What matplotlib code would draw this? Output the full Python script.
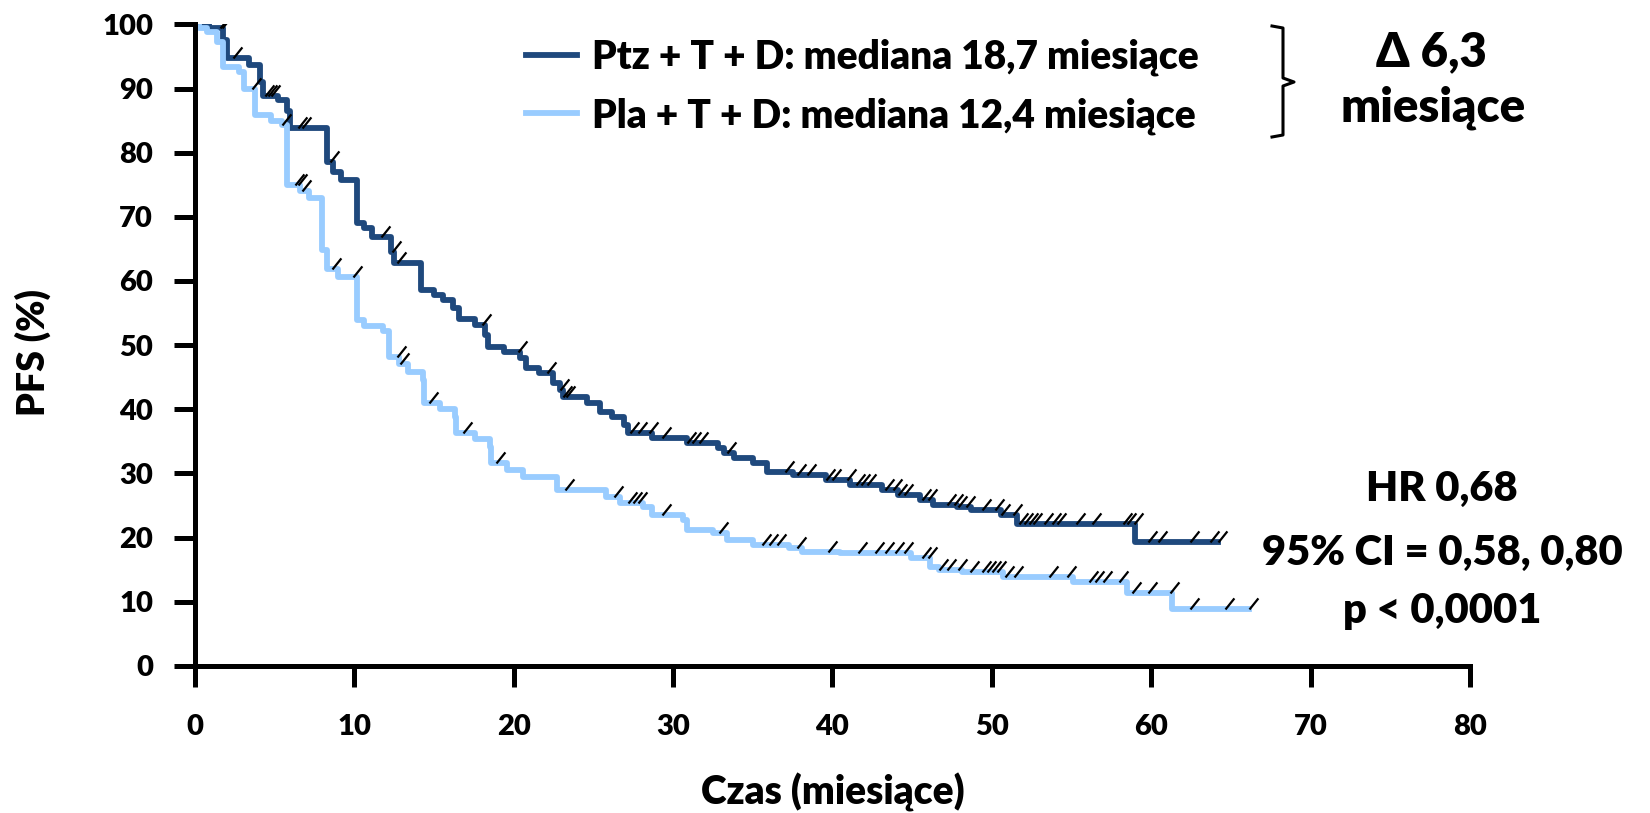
import numpy as np
import matplotlib
matplotlib.use("Agg")
import matplotlib.pyplot as plt
from matplotlib.lines import Line2D

plt.rcParams["font.family"] = ["Lato", "DejaVu Sans"]
plt.rcParams["font.weight"] = "heavy"
plt.rcParams["axes.labelweight"] = "heavy"

# Kaplan-Meier steps: time (months) of each step and PFS (%) after it
ptz_t = [0, 0.9, 1.8, 2.0, 3.4, 4.1, 4.3, 5.2, 5.8, 6.0, 8.3, 8.7, 9.2, 10.2, 10.6,
         11.1, 12.3, 12.5, 14.2, 15.0, 15.6, 16.2, 16.6, 17.6, 18.2, 18.4, 19.4,
         20.4, 20.8, 21.6, 22.5, 22.9, 23.1, 24.6, 25.4, 26.2, 26.9, 27.2, 28.7,
         30.9, 32.8, 33.2, 33.8, 35.0, 35.9, 37.5, 39.6, 41.1, 43.1, 44.1, 45.5,
         46.3, 47.8, 48.7, 50.6, 51.6, 59.0, 64.2]
ptz_s = [100, 99.4, 97.5, 94.7, 93.6, 91.0, 88.9, 88.2, 86.5, 83.8, 78.5, 77.0, 75.8,
         69.0, 68.3, 66.8, 64.5, 62.8, 58.6, 57.8, 57.0, 55.8, 54.0, 53.2, 51.5,
         49.7, 48.9, 48.0, 46.4, 45.6, 44.1, 43.0, 41.9, 41.0, 39.6, 38.8, 37.5,
         36.3, 35.5, 34.7, 34.0, 33.2, 32.4, 31.6, 30.2, 29.7, 29.0, 28.2, 27.4,
         26.6, 25.9, 25.1, 24.8, 24.3, 23.5, 22.1, 19.3, 19.3]

pla_t = [0, 0.3, 0.8, 1.4, 1.75, 2.8, 3.1, 3.8, 4.8, 5.5, 5.8, 6.6, 7.2, 8.0, 8.3,
         9.0, 10.2, 10.6, 11.8, 12.2, 12.8, 13.4, 14.3, 14.4, 15.4, 16.3, 16.4,
         17.6, 18.5, 18.6, 19.6, 20.6, 22.7, 25.8, 26.7, 28.1, 28.7, 30.6, 30.9,
         32.5, 33.4, 35.0, 37.3, 38.1, 40.5, 44.9, 46.1, 46.7, 48.1, 50.7, 55.1,
         58.5, 61.3, 66.1]
pla_s = [100, 99.4, 98.8, 97.2, 93.3, 92.5, 90.0, 85.8, 85.0, 84.3, 74.9, 74.0, 72.9,
         64.8, 61.8, 60.6, 53.9, 53.0, 52.2, 48.1, 47.0, 45.8, 44.5, 41.0, 40.0,
         38.8, 36.3, 35.3, 34.1, 31.6, 30.5, 29.4, 27.4, 26.3, 25.4, 24.8, 23.5,
         22.7, 21.2, 20.7, 19.6, 18.8, 18.3, 17.8, 17.6, 16.8, 15.4, 15.0, 14.7,
         13.9, 13.1, 11.4, 8.9, 8.9]

# censored observations (months)
ptz_cens = [1.6, 1.7, 2.4, 4.4, 4.6, 4.8, 6.5, 6.7, 8.5, 11.7, 12.4, 12.7, 18.0,
            20.3, 22.1, 22.9, 23.1, 23.3, 27.3, 27.8, 28.5, 29.3, 30.9, 31.2, 31.6,
            33.4, 37.0, 37.8, 38.4, 39.6, 40.0, 40.9, 41.5, 41.8, 42.2, 43.3, 43.8,
            44.1, 44.5, 45.6, 46.0, 47.2, 47.6, 47.9, 48.4, 49.4, 50.2, 50.6, 51.3,
            51.7, 52.0, 52.3, 52.6, 53.3, 53.8, 54.1, 55.3, 56.3, 58.2, 58.5, 58.9,
            59.8, 60.4, 62.4, 63.7, 64.2]
pla_cens = [0.1, 3.6, 5.5, 6.3, 6.5, 6.7, 8.6, 9.9, 12.7, 12.9, 14.7, 16.8, 18.9,
            23.2, 26.3, 27.2, 27.5, 27.8, 29.3, 32.9, 35.6, 36.0, 36.5, 37.8, 39.7,
            41.6, 42.7, 43.3, 43.9, 44.5, 45.6, 46.0, 46.7, 47.2, 47.9, 48.6, 49.4,
            49.7, 50.0, 50.3, 50.8, 51.4, 53.6, 54.7, 56.1, 56.5, 57.0, 58.0, 58.8,
            59.8, 61.2, 62.4, 64.6, 66.1]

labels = ["Ptz + T + D: mediana 18,7 miesiące", "Pla + T + D: mediana 12,4 miesiące"]
colors = ["#1F497D", "#99CCFF"]
stats = ["HR 0,68", "95% CI = 0,58, 0,80", "p < 0,0001"]


def at(times, surv, t):
    idx = np.searchsorted(times, t, side="right") - 1
    return np.asarray(surv)[idx]


fig = plt.figure(figsize=(16.5, 8.13), dpi=100)
ax = fig.add_axes([0.118, 0.181, 0.773, 0.789])

tick = [(0, 0), (0.8, 1)]
series = [(ptz_t, ptz_s, ptz_cens), (pla_t, pla_s, pla_cens)]
handles = []
for (t, s, c), col, lab in zip(series, colors, labels):
    h, = ax.plot(t, s, drawstyle="steps-post", color=col, lw=4.2, label=lab)
    handles.append(h)
for (t, s, c) in series:
    ax.plot(c, at(t, s, c), ls="none", marker=tick, ms=16,
            mec="black", mew=1.6, zorder=3)

ax.set_xlim(0, 80)
ax.set_ylim(0, 100)
ax.set_xticks(range(0, 81, 10))
ax.set_yticks(range(0, 101, 10))
for side in ["top", "right"]:
    ax.spines[side].set_visible(False)
for side in ["left", "bottom"]:
    ax.spines[side].set_linewidth(3.6)
ax.tick_params(axis="both", width=3.6, length=15, labelsize=21)
ax.tick_params(axis="x", pad=20)
ax.tick_params(axis="y", pad=15)
ax.set_xlabel("Czas (miesiące)", fontsize=28, va="center")
ax.xaxis.set_label_coords(0.5, -0.198)
ax.set_ylabel("PFS (%)", fontsize=27, va="center")
ax.yaxis.set_label_coords(-0.127, 0.489)

fig.legend(handles=handles, loc="upper left", bbox_to_anchor=(0.319, 0.953),
           frameon=False, fontsize=28, handlelength=1.3, handletextpad=0.4,
           labelspacing=0.55, borderpad=0, borderaxespad=0)

# bracket joining the two medians
bx = np.array([1272, 1283, 1283, 1294, 1283, 1283, 1272]) / 1650
by = 1 - np.array([26, 28, 78, 82, 86, 135, 137]) / 813
fig.add_artist(Line2D(bx, by, color="black", lw=2.2, transform=fig.transFigure))

fig.text(1431 / 1650, 1 - 52 / 813, "Δ 6,3", ha="center", va="center", fontsize=34)
fig.text(1433 / 1650, 1 - 108 / 813, "miesiące", ha="center", va="center", fontsize=34)

for y, txt in zip([489, 553, 611], stats):
    fig.text(1442 / 1650, 1 - y / 813, txt, ha="center", va="center", fontsize=30)

fig.savefig("out.png", dpi=100)
